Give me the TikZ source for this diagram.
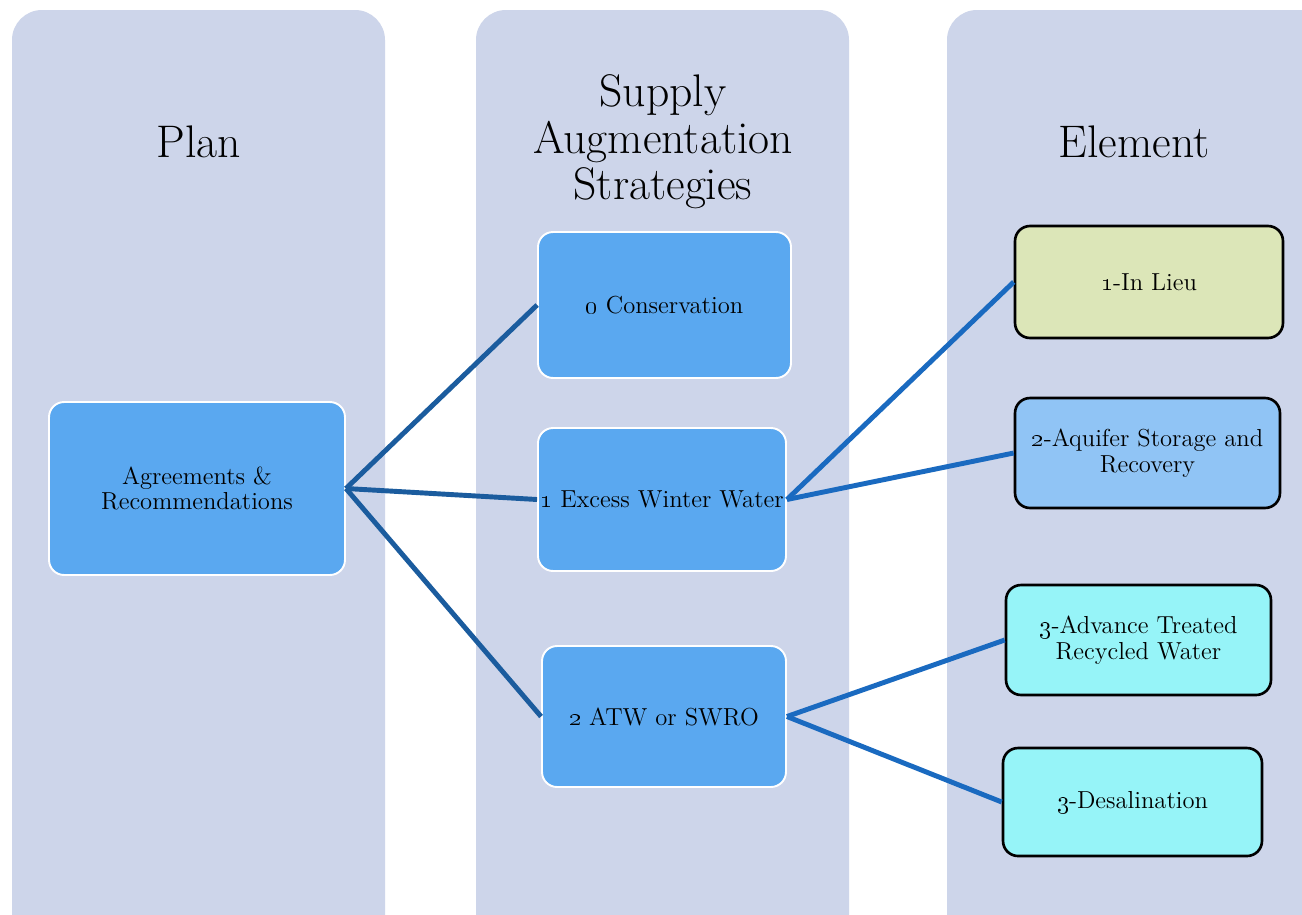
\documentclass[tikz,border=0pt]{standalone}
\usepackage{tikz}
\usetikzlibrary{positioning}

\definecolor{colbg}{HTML}{CDD5EA}
\definecolor{stepblue}{HTML}{5AA8F0}
\definecolor{lieugreen}{HTML}{DCE6B8}
\definecolor{asrblue}{HTML}{90C4F5}
\definecolor{watercyan}{HTML}{96F4F8}
\definecolor{linkdark}{HTML}{1B5C9E}
\definecolor{linklight}{HTML}{1A6AC0}

\begin{document}
\begin{tikzpicture}[x=0.02cm,y=-0.02cm,
  column/.style={fill=colbg, rounded corners=0.6cm},
  title/.style={align=center, font=\fontsize{26}{26.5}\selectfont},
  stepbox/.style={draw=white, line width=1.1pt, fill=stepblue, rounded corners=0.3cm,
    inner xsep=1pt, align=center, font=\fontsize{14}{14.7}\selectfont},
  elembox/.style={draw=black, line width=1.5pt, rounded corners=0.3cm,
    align=center, font=\fontsize{14}{14.7}\selectfont},
  link/.style={line width=2.8pt, color=linkdark},
  linkr/.style={line width=2.8pt, color=linklight}]
\useasboundingbox (0,0) rectangle (1302,914);
\clip (0,0) rectangle (1302,914);
\fill[white] (0,0) rectangle (1302,914);
% the three columns
\fill[column] (12,960) -- (12,10) -- (385,10) -- (385,960);
\fill[column] (476,960) -- (476,10) -- (849,10) -- (849,960);
\fill[column] (947,960) -- (947,10) -- (1340,10) -- (1340,960);
\node[title] (plan) at (199,142) {Plan};
\node[title] (strat) at (663,142) {Supply\\Augmentation\\Strategies};
\node[title] (elem) at (1134,142) {Element};
% plan and strategies
\node[stepbox, minimum width=5.92cm, minimum height=3.46cm] (agree) at (197,488.5) {Agreements \&\\Recommendations};
\node[stepbox, minimum width=5.06cm, minimum height=2.92cm] (cons) at (664.5,305) {\oldstylenums{0} Conservation};
\node[stepbox, minimum width=4.96cm, minimum height=2.86cm] (excess) at (662,499.5) {\oldstylenums{1} Excess Winter Water};
\node[stepbox, minimum width=4.88cm, minimum height=2.82cm] (atw) at (664,716.5) {\oldstylenums{2} ATW or SWRO};
% elements
\node[elembox, fill=lieugreen, minimum width=5.36cm, minimum height=2.24cm] (lieu) at (1149,282) {\oldstylenums{1}-In Lieu};
\node[elembox, fill=asrblue, minimum width=5.3cm, minimum height=2.2cm] (asr) at (1147.5,453) {\oldstylenums{2}-Aquifer Storage and\\Recovery};
\node[elembox, fill=watercyan, minimum width=5.3cm, minimum height=2.2cm] (atrw) at (1138.5,640) {\oldstylenums{3}-Advance Treated\\Recycled Water};
\node[elembox, fill=watercyan, minimum width=5.18cm, minimum height=2.16cm] (desal) at (1132.5,802) {\oldstylenums{3}-Desalination};
% connectors
\draw[link] (agree.east) -- (cons.west);
\draw[link] (agree.east) -- (excess.west);
\draw[link] (agree.east) -- (atw.west);
\draw[linkr] (excess.east) -- (lieu.west);
\draw[linkr] (excess.east) -- (asr.west);
\draw[linkr] (atw.east) -- (atrw.west);
\draw[linkr] (atw.east) -- (desal.west);
\end{tikzpicture}
\end{document}
